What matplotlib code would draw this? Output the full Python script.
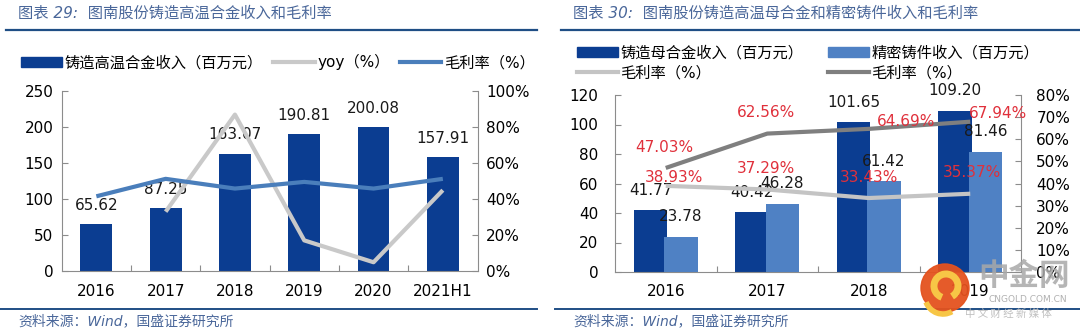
import matplotlib
matplotlib.use("Agg")
import matplotlib.pyplot as plt
from matplotlib.patches import Patch, Circle, Arc
from matplotlib.lines import Line2D
from matplotlib.ticker import MultipleLocator, FuncFormatter
import numpy as np

plt.rcParams['font.family'] = ['DejaVu Sans', 'Noto Sans CJK SC']
plt.rcParams['axes.unicode_minus'] = False

# chart 29: casting superalloy revenue
years_a = ['2016', '2017', '2018', '2019', '2020', '2021H1']
revenue_a = [65.62, 87.25, 163.07, 190.81, 200.08, 157.91]
yoy_a = [None, 32.96, 86.90, 17.01, 4.86, 44.9]
margin_a = [41.5, 51.2, 45.8, 49.5, 45.8, 51.2]

# chart 30: master alloy vs precision castings
years_b = ['2016', '2017', '2018', '2019']
master_rev = [41.77, 40.42, 101.65, 109.20]
casting_rev = [23.78, 46.28, 61.42, 81.46]
master_margin = [38.93, 37.29, 33.43, 35.37]
casting_margin = [47.03, 62.56, 64.69, 67.94]

DARK = '#0b3d91'
LIGHT = '#4f81c4'
RED = '#e0303b'
TITLE_C = '#4a679a'
RULE_C = '#1f4e85'
SPINE_C = '#8c8c8c'
FS = 11

W, H = 1080, 331
fig = plt.figure(figsize=(W / 100, H / 100), dpi=100)


def box(x0, y0, x1, y1):
    return [x0 / W, 1 - y1 / H, (x1 - x0) / W, (y1 - y0) / H]


def style_axes(ax, ax2, n):
    for a in (ax, ax2):
        a.spines['top'].set_visible(False)
        for s in ('left', 'right', 'bottom'):
            a.spines[s].set_color(SPINE_C)
            a.spines[s].set_linewidth(0.8)
    ax.spines['right'].set_visible(False)
    ax2.spines['left'].set_visible(False)
    ax2.spines['bottom'].set_visible(False)
    ax.set_xlim(-0.5, n - 0.5)
    ax.set_xticks(range(n))
    ax.set_xticks(np.arange(0.5, n - 1, 1.0), minor=True)
    ax.tick_params(axis='x', which='major', length=0, pad=9, labelsize=FS)
    ax.tick_params(axis='x', which='minor', direction='in', length=4,
                   color=SPINE_C, width=0.8)
    ax.tick_params(axis='y', direction='in', length=4, color=SPINE_C,
                   width=0.8, labelsize=FS)
    ax2.tick_params(axis='y', direction='in', length=4, color=SPINE_C,
                    width=0.8, labelsize=FS)
    ax.set_zorder(1)
    ax2.set_zorder(2)
    ax2.patch.set_visible(False)


def header(x0, x1, text):
    fig.text(x0 / W, 1 - 13 / H, text, color=TITLE_C, fontsize=11,
             va='center', ha='left', style='italic')
    fig.add_artist(Line2D([x0 / W - 12 / W, x1 / W], [1 - 30 / H] * 2,
                          color=RULE_C, lw=1.6))
    fig.add_artist(Line2D([x0 / W - 18 / W, x1 / W], [1 - 309 / H] * 2,
                          color=RULE_C, lw=1.4))
    fig.text(x0 / W, 1 - 321 / H, '资料来源：Wind，国盛证券研究所', color=TITLE_C,
             fontsize=10, va='center', ha='left', style='italic')


pct_fmt = FuncFormatter(lambda v, p: f'{v:.0f}%')

# ---------------- left chart ----------------
axA = fig.add_axes(box(61.7, 91, 477.5, 271))
xa = np.arange(len(years_a))
bars = axA.bar(xa, revenue_a, width=0.46, color=DARK, zorder=2)
for rect, v in zip(bars, revenue_a):
    axA.annotate(f'{v:.2f}', (rect.get_x() + rect.get_width() / 2, v),
                 xytext=(0, 8), textcoords='offset points', ha='center',
                 va='bottom', fontsize=FS, color='#1a1a1a')
axA.set_ylim(0, 250)
axA.yaxis.set_major_locator(MultipleLocator(50))
axA.tick_params(axis='y', pad=6)

yoy_x = [i for i, v in enumerate(yoy_a) if v is not None]
yoy_y = [v for v in yoy_a if v is not None]
axA_lines = axA.twinx()
axA_lines.set_ylim(0, 100)
axA_lines.plot(yoy_x, yoy_y, color='#c9c9c9', lw=3, solid_capstyle='butt')
axA_lines.plot(xa, margin_a, color='#4a7ebb', lw=3, solid_capstyle='butt')
axA_lines.yaxis.set_major_locator(MultipleLocator(20))
axA_lines.yaxis.set_major_formatter(pct_fmt)
axA_lines.tick_params(axis='y', pad=6)
style_axes(axA, axA_lines, len(years_a))
axA.set_xticklabels(years_a)

header(18, 537, '图表 29:  图南股份铸造高温合金收入和毛利率')

handles_a = [Patch(color=DARK), Line2D([], [], color='#c9c9c9', lw=3),
             Line2D([], [], color='#4a7ebb', lw=3)]
labels_a = ['铸造高温合金收入（百万元）', 'yoy（%）', '毛利率（%）']
fig.legend(handles_a, labels_a, loc='center left', ncol=3, frameon=False,
           bbox_to_anchor=(21 / W, 1 - 62 / H), borderpad=0, borderaxespad=0,
           handlelength=2.7, handleheight=0.6, handletextpad=0.15,
           columnspacing=0.7, fontsize=FS)

# ---------------- right chart ----------------
axB = fig.add_axes(box(615, 95, 1021, 272))
xb = np.arange(len(years_b))
off, bw = 0.15, 0.33
b1 = axB.bar(xb - off, master_rev, width=bw, color=DARK, zorder=2)
b2 = axB.bar(xb + off, casting_rev, width=bw, color=LIGHT, zorder=3)
for bs, vals in ((b1, master_rev), (b2, casting_rev)):
    for rect, v in zip(bs, vals):
        axB.annotate(f'{v:.2f}', (rect.get_x() + rect.get_width() / 2, v),
                     xytext=(0, 9), textcoords='offset points', ha='center',
                     va='bottom', fontsize=FS, color='#1a1a1a', zorder=5)
axB.set_ylim(0, 120)
axB.yaxis.set_major_locator(MultipleLocator(20))
axB.tick_params(axis='y', pad=12)

axB_lines = axB.twinx()
axB_lines.set_ylim(0, 80)
axB_lines.plot(xb, master_margin, color='#c4c4c4', lw=3, solid_capstyle='butt')
axB_lines.plot(xb, casting_margin, color='#7f7f7f', lw=3, solid_capstyle='butt')
axB_lines.yaxis.set_major_locator(MultipleLocator(10))
axB_lines.yaxis.set_major_formatter(pct_fmt)
axB_lines.tick_params(axis='y', pad=11)
style_axes(axB, axB_lines, len(years_b))
axB.set_xticklabels(years_b)

# label offsets in points (dx, dy) from each margin point
master_off = [(6, 6), (-1, 15), (0, 15), (1, 15)]
casting_off = [(-1, 15), (-1, 15), (27, 5), (20, 6)]
for vals, offs in ((master_margin, master_off), (casting_margin, casting_off)):
    for i, (v, (dx, dy)) in enumerate(zip(vals, offs)):
        axB_lines.annotate(f'{v:.2f}%', (i, v), xytext=(dx, dy),
                           textcoords='offset points', ha='center',
                           va='center', fontsize=FS, color=RED)

header(573, 1080, '图表 30:  图南股份铸造高温母合金和精密铸件收入和毛利率')

handles_b = [Patch(color=DARK), Line2D([], [], color='#c4c4c4', lw=3),
             Patch(color=LIGHT), Line2D([], [], color='#7f7f7f', lw=3)]
labels_b = ['铸造母合金收入（百万元）', '毛利率（%）', '精密铸件收入（百万元）', '毛利率（%）']
fig.legend(handles_b, labels_b, loc='center left', ncol=2, frameon=False,
           bbox_to_anchor=(577 / W, 1 - 63 / H), borderpad=0, borderaxespad=0,
           handlelength=2.7, handleheight=0.6, handletextpad=0.15,
           columnspacing=1.6, labelspacing=0.3, fontsize=FS)

# watermark (placed in inches so the logo stays round)
tr = fig.dpi_scale_trans
cx, cy = 9.45, (H - 288) / 100
fig.add_artist(Circle((cx, cy), 0.24, color='#e4521e', alpha=0.95,
                      transform=tr, zorder=10))
fig.add_artist(Arc((cx + 0.01, cy + 0.02), 0.24, 0.24, theta1=-60, theta2=250,
                   color='#f7c646', lw=5, transform=tr, zorder=11))
fig.add_artist(Arc((cx - 0.02, cy - 0.08), 0.36, 0.36, theta1=200, theta2=300,
                   color='#f7c646', lw=4, transform=tr, zorder=11))
fig.text(1024 / W, 1 - 276 / H, '中金网', fontsize=22, color='#a8a8a8',
         ha='center', va='center', alpha=0.85, weight='bold', zorder=10,
         family=['Noto Sans CJK SC'])
fig.text(1028 / W, 1 - 299 / H, 'CNGOLD.COM.CN', fontsize=6.5,
         color='#b0b0b0', ha='center', va='center', zorder=10)
fig.text(1008 / W, 1 - 314 / H, '中 文 财 经 新 媒 体', fontsize=7.5,
         color='#c0c0c0', ha='center', va='center', zorder=10,
         family=['Noto Sans CJK SC'])

fig.savefig('out.png', dpi=100)
